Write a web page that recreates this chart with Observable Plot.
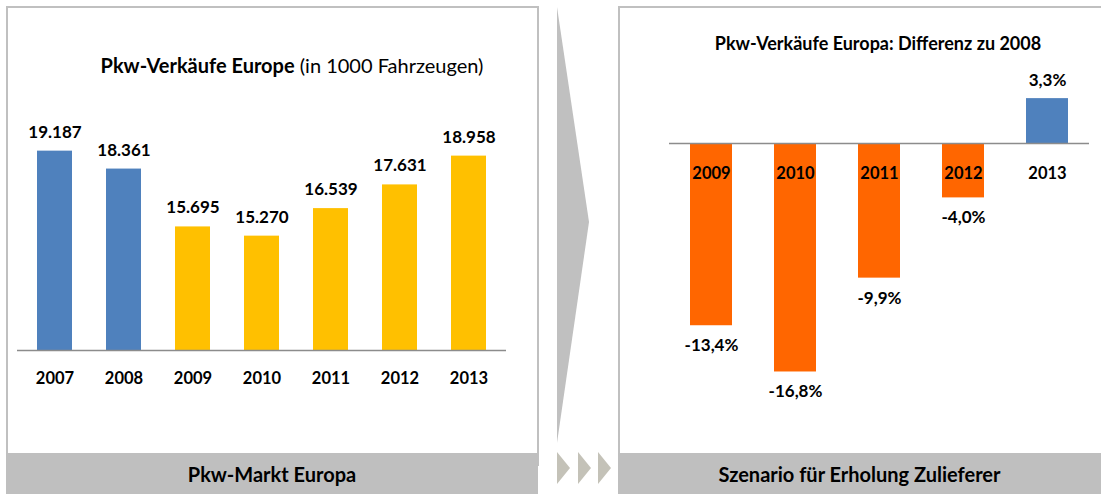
<!DOCTYPE html>
<html>
<head>
<meta charset="utf-8">
<script src="https://cdn.jsdelivr.net/npm/d3@7"></script>
<script src="https://cdn.jsdelivr.net/npm/@observablehq/plot@0.6"></script>
<style>
  body { margin: 0; background: #fff; font-family: Lato, "Open Sans", sans-serif; }
  #wrap { position: relative; width: 1101px; height: 494px; overflow: hidden; background: #fff; }
  .box { position: absolute; border: 2px solid #c0c0c0; box-sizing: border-box; }
  .band { position: absolute; background: #bfbfbf; color: #000; font-weight: bold; font-size: 20px;
          display: flex; align-items: center; justify-content: center; }
  .title { position: absolute; color: #000; white-space: nowrap; transform: translate(-50%, -50%); }
  .pl { position: absolute; }
</style>
</head>
<body>
<div id="wrap">
  <div class="box" style="left:6px; top:6px; width:533px; height:460px;"></div>
  <div class="box" style="left:618px; top:6px; width:500px; height:460px;"></div>
  <div class="band" style="left:6px; top:453px; width:532px; height:41px;">Pkw-Markt Europa</div>
  <div class="band" style="left:618px; top:453px; width:483px; height:41px;">Szenario für Erholung Zulieferer</div>
  <svg class="pl" style="left:0; top:0;" width="1101" height="494">
    <polygon points="557,7 589,222 557,443" fill="#c0c0c0"/>
    <polygon points="557,452 570,468 557,484" fill="#c4c2b8"/>
    <polygon points="578,452 591,468 578,484" fill="#c4c2b8"/>
    <polygon points="598,452 611,468 598,484" fill="#c4c2b8"/>
  </svg>
  <div class="title" style="left:292px; top:65px; font-size:20px;"><b>Pkw-Verkäufe Europe</b> (in 1000 Fahrzeugen)</div>
  <div class="title" style="left:878px; top:43px; font-size:18px; font-weight:bold;">Pkw-Verkäufe Europa: Differenz zu 2008</div>
  <div id="left" class="pl" style="left:7px; top:7px;"></div>
  <div id="right" class="pl" style="left:619px; top:7px;"></div>
</div>
<script>
// Left chart: passenger car sales Europe (thousand vehicles)
const years = ["2007", "2008", "2009", "2010", "2011", "2012", "2013"];
const sales = [19187, 18361, 15695, 15270, 16539, 17631, 18958];
const salesAxisMin = 10000;
const salesAxisMax = 20000;

// Right chart: difference to 2008 (%)
const diffYears = ["2009", "2010", "2011", "2012", "2013"];
const diffPct = [-13.4, -16.8, -9.9, -4.0, 3.3];

const BLUE = "#4f81bd", YELLOW = "#ffc000", ORANGE = "#ff6600";

const de = d3.formatLocale({decimal: ",", thousands: ".", grouping: [3], currency: ["", "€"], minus: "-"});
const fmtThousands = de.format(",d");
const fmtPct = v => de.format(".1f")(v) + "%";

const leftData = years.map((y, i) => ({year: y, value: sales[i], phase: +y <= 2008 ? "vor" : "nach"}));
const rightData = diffYears.map((y, i) => ({year: y, value: diffPct[i], sign: diffPct[i] < 0 ? "neg" : "pos"}));

const font = "Lato, 'Open Sans', sans-serif";

const left = Plot.plot({
  width: 530,
  height: 446,
  marginLeft: 10,
  marginRight: 31,
  marginTop: 0,
  marginBottom: 0,
  style: {fontFamily: font, fontWeight: "bold", color: "#000", background: "transparent", overflow: "visible"},
  x: {domain: years, paddingInner: 0.5, paddingOuter: 0.243, axis: null},
  y: {domain: [salesAxisMin, salesAxisMax], range: [343, 126], axis: null},
  color: {domain: ["vor", "nach"], range: [BLUE, YELLOW]},
  marks: [
    Plot.barY(leftData, {x: "year", y1: () => salesAxisMin, y2: "value", fill: "phase"}),
    Plot.ruleY([salesAxisMin], {stroke: "#8c8c8c", strokeWidth: 1.5}),
    Plot.text(leftData, {x: "year", y: "value", text: d => fmtThousands(d.value), dy: -19, fontSize: 17, fill: "#000"}),
    Plot.text(leftData, {x: "year", y: () => salesAxisMin, text: "year", dy: 28, fontSize: 16.5, fill: "#000"})
  ]
});
document.getElementById("left").appendChild(left);

const right = Plot.plot({
  width: 482,
  height: 446,
  marginLeft: 50,
  marginRight: 12,
  marginTop: 0,
  marginBottom: 0,
  style: {fontFamily: font, fontWeight: "bold", color: "#000", background: "transparent", overflow: "visible"},
  x: {domain: diffYears, paddingInner: 0.5, paddingOuter: 0.25, axis: null},
  y: {domain: [-20, 6], range: [408, 54.4], axis: null},
  color: {domain: ["neg", "pos"], range: [ORANGE, BLUE]},
  marks: [
    Plot.barY(rightData, {x: "year", y: "value", fill: "sign"}),
    Plot.ruleY([0], {stroke: "#8c8c8c", strokeWidth: 1.5}),
    Plot.text(rightData.filter(d => d.value >= 0), {x: "year", y: "value", text: d => fmtPct(d.value), dy: -18, fontSize: 17, fill: "#000"}),
    Plot.text(rightData.filter(d => d.value < 0), {x: "year", y: "value", text: d => fmtPct(d.value), dy: 20, fontSize: 17, fill: "#000"}),
    Plot.text(rightData, {x: "year", y: () => 0, text: "year", dy: 30, fontSize: 16.5, fill: "#000"})
  ]
});
document.getElementById("right").appendChild(right);
</script>
</body>
</html>
